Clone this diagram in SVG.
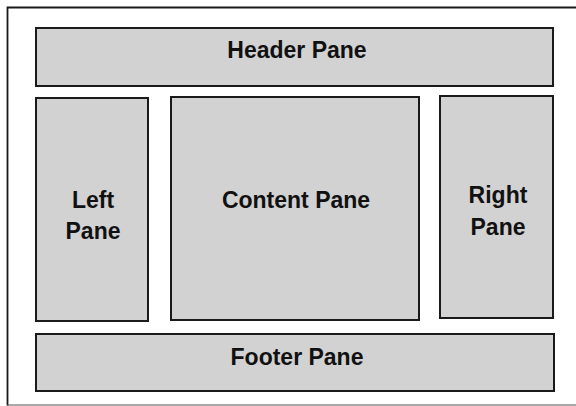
<svg xmlns="http://www.w3.org/2000/svg" width="576" height="406" viewBox="0 0 576 406">
<style>
.pane{fill:#d2d2d2;stroke:#1a1a1a;stroke-width:2}
.lbl{font-family:"Liberation Sans",Arial,sans-serif;font-weight:bold;font-size:23px;fill:#111;text-anchor:middle}
</style>
<rect x="0" y="0" width="576" height="406" fill="#ffffff"/>
<path d="M7.5,405.5 V7.5 H580" fill="none" stroke="#1a1a1a" stroke-width="1.8"/>
<path d="M7.5,405 H580" fill="none" stroke="#555" stroke-width="1"/>
<g id="header"><rect class="pane" x="36" y="28" width="517" height="58"/><text class="lbl" x="297" y="58">Header Pane</text></g>
<g id="left"><rect class="pane" x="36" y="98" width="112" height="223"/><text class="lbl" x="93" y="208">Left</text><text class="lbl" x="93" y="239">Pane</text></g>
<g id="content"><rect class="pane" x="171" y="97" width="248" height="223"/><text class="lbl" x="296" y="208">Content Pane</text></g>
<g id="right"><rect class="pane" x="440" y="96" width="113" height="222"/><text class="lbl" x="498" y="203">Right</text><text class="lbl" x="498" y="235">Pane</text></g>
<g id="footer"><rect class="pane" x="36" y="334" width="518" height="57"/><text class="lbl" x="297" y="365">Footer Pane</text></g>
<g id="connectors"></g>
</svg>
